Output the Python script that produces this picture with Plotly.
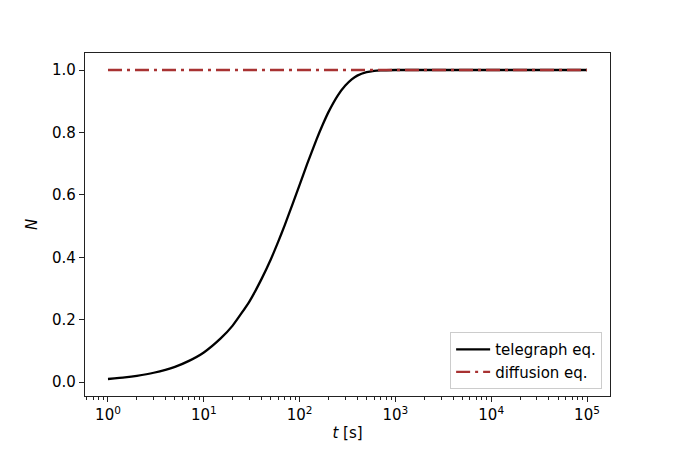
import plotly.graph_objects as go

# Values
t_tele = [1, 1.5, 2, 3, 5, 7, 10, 15, 20, 30, 40, 50, 60, 70, 85, 100, 120, 150, 175, 200, 250, 300, 350,
          400, 500, 600, 700, 1000, 1e4, 1e5]
n_tele = [0.010, 0.015, 0.020, 0.030, 0.049, 0.068, 0.095, 0.140, 0.181, 0.259, 0.330, 0.393, 0.451, 0.503,
          0.573, 0.632, 0.699, 0.777, 0.826, 0.865, 0.918, 0.950, 0.970, 0.982, 0.993, 0.9975, 0.999, 1.0,
          1.0, 1.0]
t_diff = [1, 1e5]
n_diff = [1.0, 1.0]

x_tickvals = [1, 10, 100, 1000, 1e4, 1e5]
x_ticktext = ["10<sup>0</sup>", "10<sup>1</sup>", "10<sup>2</sup>", "10<sup>3</sup>", "10<sup>4</sup>", "10<sup>5</sup>"]
y_tickvals = [0.0, 0.2, 0.4, 0.6, 0.8, 1.0]

minor_vals = [m * 10 ** e for e in range(-1, 6) for m in range(2, 10)]

FONT = "DejaVu Sans"

fig = go.Figure()
fig.add_trace(go.Scatter(x=t_tele, y=n_tele, mode="lines", name="telegraph eq.",
                         line=dict(color="black", width=2.3, shape="spline", smoothing=0.5)))
fig.add_trace(go.Scatter(x=t_diff, y=n_diff, mode="lines", name="diffusion eq.",
                         line=dict(color="#a83232", width=2.3, dash="14px,5px,3px,5px")))

axis_common = dict(showline=True, linecolor="#222222", linewidth=1.2, mirror=True,
                   ticks="outside", ticklen=5, tickwidth=1.1, tickcolor="#222222",
                   showgrid=False, zeroline=False,
                   tickfont=dict(family=FONT, size=15, color="black"))

fig.update_xaxes(type="log", range=[-0.24, 5.24], tickvals=x_tickvals, ticktext=x_ticktext,
                 minor=dict(ticks="outside", ticklen=3, tickwidth=0.9, tickcolor="#222222",
                            tickvals=minor_vals, showgrid=False),
                 title=dict(text="<i>t</i> [s]", font=dict(family=FONT, size=15, color="black"), standoff=4),
                 **axis_common)
fig.update_yaxes(range=[-0.0445, 1.0545], tickvals=y_tickvals, tickformat=".1f",
                 title=dict(text="<i>N</i>", font=dict(family=FONT, size=15, color="black"), standoff=10),
                 **axis_common)

fig.update_layout(width=670, height=444,
                  margin=dict(l=77, r=68, t=45, b=56),
                  paper_bgcolor="white", plot_bgcolor="white",
                  font=dict(family=FONT, color="black"),
                  legend=dict(x=0.985, y=0.02, xanchor="right", yanchor="bottom",
                              bgcolor="rgba(255,255,255,0.8)", bordercolor="#cccccc", borderwidth=1,
                              font=dict(family=FONT, size=15, color="black"),
                              itemwidth=34, tracegroupgap=0))

fig.write_html("out.html")
